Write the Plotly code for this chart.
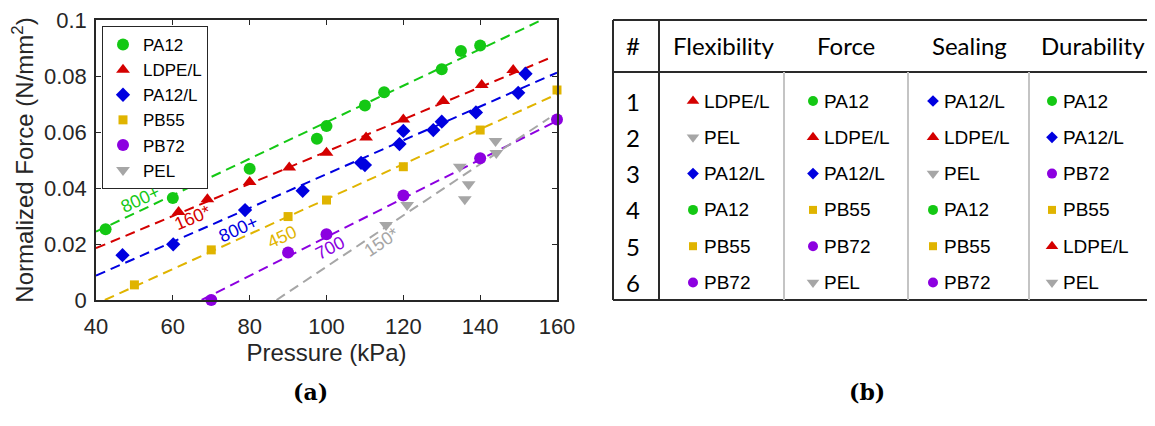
import plotly.graph_objects as go

# ---------------- data ----------------
materials = ["PA12", "LDPE/L", "PA12/L", "PB55", "PB72", "PEL"]
colors = ["#14C814", "#D40000", "#0000E0", "#E0B400", "#8C00E0", "#A6A6A6"]
symbols = ["circle", "triangle-up", "diamond", "square", "circle", "triangle-down"]
plot_sizes = [12, 12, 11, 9, 12, 12]
table_sizes = [10, 11, 9, 8, 10, 11]

pa12_x = [42.5, 60, 80, 97.5, 100, 110, 115, 130, 135, 140]
pa12_y = [0.0253, 0.0364, 0.0469, 0.0576, 0.0621, 0.0695, 0.0742, 0.0824, 0.0889, 0.0909]
ldpe_x = [61.5, 69, 80, 90.3, 100, 110.3, 120, 130.4, 140.4, 148.6]
ldpe_y = [0.0314, 0.0360, 0.0421, 0.0473, 0.0526, 0.0580, 0.0645, 0.0711, 0.0768, 0.0821]
pa12l_x = [46.9, 60.1, 78.8, 93.8, 109, 110, 119, 120, 127.8, 130, 138.9, 149.9, 151.8]
pa12l_y = [0.0160, 0.0199, 0.0321, 0.0390, 0.0490, 0.0482, 0.0557, 0.0604, 0.0607, 0.0637, 0.0670, 0.0740, 0.0808]
pb55_x = [50, 70, 90, 100, 120, 140, 160]
pb55_y = [0.0054, 0.0179, 0.0298, 0.0357, 0.0476, 0.0607, 0.0750]
pb72_x = [70, 90, 100, 120, 140, 160]
pb72_y = [0.0, 0.0170, 0.0235, 0.0373, 0.0506, 0.0645]
pel_x = [115.5, 121, 134.7, 136, 137, 144, 144.2]
pel_y = [0.0268, 0.0339, 0.0476, 0.0360, 0.0413, 0.0568, 0.0525]

series_x = [pa12_x, ldpe_x, pa12l_x, pb55_x, pb72_x, pel_x]
series_y = [pa12_y, ldpe_y, pa12l_y, pb55_y, pb72_y, pel_y]

# dashed trend lines (end points)
fit_x0 = [40, 40, 40, 42.3, 67.5, 87]
fit_y0 = [0.0244, 0.0185, 0.0087, 0.0, 0.0, 0.0]
fit_x1 = [160, 158.6, 160, 160, 160, 158]
fit_y1 = [0.1026, 0.0867, 0.0812, 0.0735, 0.0640, 0.0650]

# line labels
line_labels = ["800+", "160*", "800+", "450", "700", "150*"]
label_x = [51.7, 65.0, 77.0, 88.4, 100.9, 114.4]
label_y = [0.0361, 0.0293, 0.0254, 0.0225, 0.0186, 0.0207]
label_angle = [-25, -23, -24, -25, -27, -34]

x_ticks = [40, 60, 80, 100, 120, 140, 160]
y_ticks = [0, 0.02, 0.04, 0.06, 0.08, 0.1]
y_tick_text = ["0", "0.02", "0.04", "0.06", "0.08", "0.1"]

# ranking table
table_cols = ["Flexibility", "Force", "Sealing", "Durability"]
rank_numbers = ["1", "2", "3", "4", "5", "6"]
rank_flex = ["LDPE/L", "PEL", "PA12/L", "PA12", "PB55", "PB72"]
rank_force = ["PA12", "LDPE/L", "PA12/L", "PB55", "PB72", "PEL"]
rank_seal = ["PA12/L", "LDPE/L", "PEL", "PA12", "PB55", "PB72"]
rank_dur = ["PA12", "PA12/L", "PB72", "PB55", "LDPE/L", "PEL"]
rankings = [rank_flex, rank_force, rank_seal, rank_dur]

# ---------------- figure ----------------
# the page body has an 8px margin, so the figure is made 8px smaller
# and all window-pixel positions are shifted by OFF
OFF = 8
W, H = 1155 - OFF, 426 - OFF
AX = "#262626"
SANS = "Liberation Sans, Arial, sans-serif"


def px(v):
    return v - OFF


fig = go.Figure()

for i, m in enumerate(materials):
    fig.add_trace(go.Scatter(
        x=[fit_x0[i], fit_x1[i]], y=[fit_y0[i], fit_y1[i]], mode="lines",
        line=dict(color=colors[i], width=2, dash="10px,6px"),
        showlegend=False, hoverinfo="skip", xaxis="x", yaxis="y"))

for i, m in enumerate(materials):
    fig.add_trace(go.Scatter(
        x=series_x[i], y=series_y[i], mode="markers", name=m,
        marker=dict(symbol=symbols[i], size=plot_sizes[i], color=colors[i],
                    line=dict(width=0)),
        xaxis="x", yaxis="y", cliponaxis=False))

for i, lab in enumerate(line_labels):
    fig.add_annotation(x=label_x[i], y=label_y[i], xref="x", yref="y",
                       text=lab, showarrow=False, textangle=label_angle[i],
                       font=dict(family=SANS, size=18, color=colors[i]))

# ---- table (overlay axes in pixel units) ----
T_LEFT, T_RIGHT, T_TOP, T_HEAD, T_BOT = px(613), px(1152), px(20), px(72), px(300)
NUM_SEP = px(659)
COL_SEPS = [px(784), px(908), px(1029)]
HEAD_Y = px(45)
HEAD_X = [px(723), px(846), px(969), px(1093)]
NUM_X = px(633)
ROW_Y0, ROW_DY = px(101), 36.3
MARK_X = [px(693), px(813), px(933), px(1052)]
TEXT_DX = 9

for i, m in enumerate(materials):
    xs, ys = [], []
    for c, ranking in enumerate(rankings):
        for r, name in enumerate(ranking):
            if name == m:
                xs.append(MARK_X[c])
                ys.append(ROW_Y0 + ROW_DY * r)
    fig.add_trace(go.Scatter(
        x=xs, y=ys, mode="markers", showlegend=False, hoverinfo="skip",
        marker=dict(symbol=symbols[i], size=table_sizes[i], color=colors[i],
                    line=dict(width=0)),
        xaxis="x2", yaxis="y2", cliponaxis=False))

for c, ranking in enumerate(rankings):
    for r, name in enumerate(ranking):
        fig.add_annotation(x=MARK_X[c] + TEXT_DX, y=ROW_Y0 + ROW_DY * r,
                           xref="x2", yref="y2", text=name, showarrow=False,
                           xanchor="left", yanchor="middle",
                           font=dict(family=SANS, size=19, color="black"))

HEAD_FONT = dict(family="Lato, Carlito, sans-serif", size=24, color="black")
fig.add_annotation(x=NUM_X, y=HEAD_Y, xref="x2", yref="y2", text="#",
                   showarrow=False, font=HEAD_FONT)
for c, col in enumerate(table_cols):
    fig.add_annotation(x=HEAD_X[c], y=HEAD_Y, xref="x2", yref="y2", text=col,
                       showarrow=False, font=HEAD_FONT)
for r, num in enumerate(rank_numbers):
    fig.add_annotation(x=NUM_X, y=ROW_Y0 + ROW_DY * r, xref="x2", yref="y2",
                       text=num, showarrow=False, font=HEAD_FONT)

dark = dict(color="#2a2a2a", width=2)
grey = dict(color="#C4C4C4", width=2)
for yy in (T_TOP, T_HEAD, T_BOT):
    fig.add_shape(type="line", xref="x2", yref="y2", x0=T_LEFT, x1=T_RIGHT,
                  y0=yy, y1=yy, line=dark)
fig.add_shape(type="line", xref="x2", yref="y2", x0=T_LEFT, x1=T_LEFT,
              y0=T_TOP, y1=T_BOT, line=dark)
fig.add_shape(type="line", xref="x2", yref="y2", x0=NUM_SEP, x1=NUM_SEP,
              y0=T_TOP, y1=T_BOT, line=dark)
for xx in COL_SEPS:
    fig.add_shape(type="line", xref="x2", yref="y2", x0=xx, x1=xx,
                  y0=T_HEAD, y1=T_BOT, line=grey)

# sub-figure labels
SERIF = dict(family="DejaVu Serif, Liberation Serif, serif", size=22, color="black")
fig.add_annotation(x=px(291) / W, y=1 - px(407) / H, xref="paper", yref="paper",
                   text="<b>(a)</b>", showarrow=False, font=SERIF)
fig.add_annotation(x=px(887) / W, y=1 - px(407) / H, xref="paper", yref="paper",
                   text="<b>(b)</b>", showarrow=False, font=SERIF)

axis_common = dict(showgrid=False, zeroline=False, ticks="inside", ticklen=5,
                   tickwidth=1.2, tickcolor=AX, showline=True, linewidth=1.5,
                   linecolor=AX, mirror="ticks", automargin=False,
                   ticklabeloverflow="allow",
                   tickfont=dict(family=SANS, size=22, color=AX))

fig.update_layout(
    width=W, height=H, autosize=False,
    margin=dict(l=0, r=0, t=0, b=0, pad=0),
    paper_bgcolor="white", plot_bgcolor="white",
    xaxis=dict(domain=[px(96) / W, px(557) / W], range=[40, 160],
               tickvals=x_ticks, anchor="y", ticklabelstandoff=6,
               title=dict(text="Pressure (kPa)", standoff=6,
                          font=dict(family=SANS, size=24, color=AX)),
               **axis_common),
    yaxis=dict(domain=[1 - px(300) / H, 1 - px(20) / H], range=[0, 0.1],
               tickvals=y_ticks, ticktext=y_tick_text, anchor="x",
               ticklabelstandoff=3,
               title=dict(text="Normalized Force (N/mm<sup>2</sup>)", standoff=6,
                          font=dict(family=SANS, size=24, color=AX)),
               **axis_common),
    xaxis2=dict(domain=[0.5, 1], range=[W * 0.5, W], visible=False,
                anchor="y2", fixedrange=True, automargin=False),
    yaxis2=dict(domain=[0, 1], range=[H, 0], visible=False, anchor="x2",
                fixedrange=True, automargin=False),
    legend=dict(x=px(102) / W, y=1 - px(26) / H, xanchor="left", yanchor="top",
                bgcolor="white", bordercolor=AX, borderwidth=1,
                font=dict(family=SANS, size=17, color="black"),
                itemwidth=30, tracegroupgap=0),
    showlegend=True,
)

fig.write_html("out.html")
